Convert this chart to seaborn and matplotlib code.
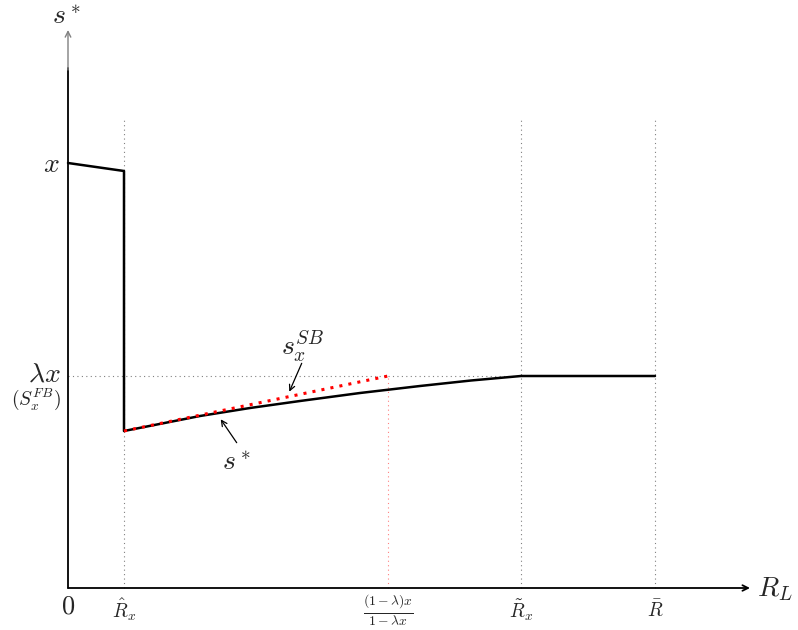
import matplotlib
matplotlib.use("Agg")
import matplotlib.pyplot as plt
import seaborn as sns
import pandas as pd

sns.set_style("white")
plt.rcParams["mathtext.fontset"] = "cm"
plt.rcParams["font.family"] = ["DejaVu Serif"]

# --- data (axis units) ---
R_hat, R_frac, R_tilde, R_bar = 0.56, 3.20, 4.53, 5.87
x_level, lam_x = 4.25, 2.12

s_star_x = [0.0, 0.56, 0.56, 0.94, 1.32, 1.82, 2.32, 2.92, 3.52, 4.03, 4.53, 5.87]
s_star_y = [4.25, 4.17, 1.57, 1.645, 1.72, 1.80, 1.87, 1.95, 2.02, 2.075, 2.12, 2.12]

s_sb_x = [0.56, 3.20]
s_sb_y = [1.57, 2.12]

tick_pos = [R_hat, R_frac, R_tilde, R_bar]
tick_labels = [r"$\hat{R}_x$", r"$\frac{(1-\lambda)x}{1-\lambda x}$", r"$\tilde{R}_x$", r"$\bar{R}$"]

df = pd.DataFrame({"R": s_star_x, "s": s_star_y})

fig = plt.figure(figsize=(7.98, 6.30), dpi=100)
ax = fig.add_axes([0, 0, 1, 1])
ax.set_xlim(-0.68, 7.30)
ax.set_ylim(-0.42, 5.88)
ax.axis("off")

# guide lines
for xp in [R_hat, R_tilde, R_bar]:
    ax.plot([xp, xp], [0, 4.70], color="gray", ls=(0, (1, 3)), lw=0.8)
ax.plot([0, R_tilde], [lam_x, lam_x], color="gray", ls=(0, (1, 3)), lw=0.8)
ax.plot([R_frac, R_frac], [0, lam_x], color="#ff8080", ls=(0, (1, 3)), lw=0.8)

# curves
sns.lineplot(data=df, x="R", y="s", sort=False, estimator=None, ax=ax, color="black", lw=1.8)
ax.plot(s_sb_x, s_sb_y, color="red", ls=(0, (1, 2)), lw=2.2)

# axes arrows
ax.plot([0, 0], [0, 5.20], color="black", lw=1.3)
ax.annotate("", xy=(0, 5.58), xytext=(0, 5.18),
            arrowprops=dict(arrowstyle="->", color="gray", lw=1.0, shrinkA=0, shrinkB=0))
ax.annotate("", xy=(6.82, 0), xytext=(0, 0),
            arrowprops=dict(arrowstyle="->", color="black", lw=1.3, shrinkA=0, shrinkB=0))

# labels
ax.text(-0.02, 5.72, r"$s^*$", fontsize=20, ha="center", va="center")
ax.text(7.07, -0.01, r"$R_L$", fontsize=20, ha="center", va="center")
ax.text(0.0, -0.18, r"$0$", fontsize=19, ha="center", va="center")
ax.text(-0.08, x_level - 0.01, r"$x$", fontsize=20, ha="right", va="center")
ax.text(-0.07, lam_x + 0.02, r"$\lambda x$", fontsize=20, ha="right", va="center")
ax.text(-0.07, lam_x - 0.23, r"$(S_x^{FB})$", fontsize=14, ha="right", va="center")

for xp, lab in zip(tick_pos, tick_labels):
    ax.text(xp, -0.22, lab, fontsize=14, ha="center", va="center")

# annotations
ax.text(2.35, 2.42, r"$s_x^{SB}$", fontsize=20, ha="center", va="center")
ax.annotate("", xy=(2.213, 1.963), xytext=(2.337, 2.247),
            arrowprops=dict(arrowstyle="->", color="black", lw=0.9, shrinkA=0, shrinkB=0))
ax.text(1.68, 1.25, r"$s^*$", fontsize=20, ha="center", va="center")
ax.annotate("", xy=(1.527, 1.687), xytext=(1.687, 1.453),
            arrowprops=dict(arrowstyle="->", color="black", lw=0.9, shrinkA=0, shrinkB=0))

fig.savefig("out.png", dpi=100)
